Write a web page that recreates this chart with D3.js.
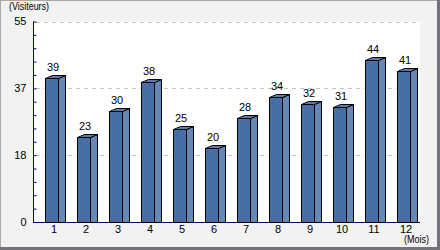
<!DOCTYPE html>
<html><head><meta charset="utf-8">
<script src="https://cdn.jsdelivr.net/npm/d3@7"></script>
<style>
html,body{margin:0;padding:0;background:#f2f2f2;}
svg{display:block;}
text{font-family:"Liberation Sans",Arial,sans-serif;font-size:11px;fill:#000;}
</style></head>
<body>
<svg id="chart" width="440" height="250"></svg>
<script>
const months = ["1","2","3","4","5","6","7","8","9","10","11","12"];
const visitors = [39,23,30,38,25,20,28,34,32,31,44,41];
const yMax = 55;
const yTickLabels = ["0","18","37","55"];
const yTitle = "(Visiteurs)";
const xTitle = "(Mois)";

(function(){
const svg = d3.select("#chart");
const W = 440, H = 250;
svg.append("rect").attr("x",0).attr("y",0).attr("width",W).attr("height",H).attr("fill","#f2f2f2");
svg.append("rect").attr("x",0.5).attr("y",0.5).attr("width",W-1).attr("height",H-1).attr("fill","none").attr("stroke","#a8a8ac");
svg.append("rect").attr("x",W-3).attr("y",0).attr("width",3).attr("height",H).attr("fill","#72737c");
svg.append("rect").attr("x",0).attr("y",H-3).attr("width",W).attr("height",3).attr("fill","#72737c");

const pL = 33, pR = 420, pT = 21.5, pB = 222;
svg.append("rect").attr("x",pL).attr("y",pT).attr("width",pR-pL).attr("height",pB-pT).attr("fill","#fff");

const y = d3.scaleLinear().domain([0,yMax]).range([pB, pT]);
const x = d3.scaleBand().domain(months).range([38, 422]).padding(0);

const majors = d3.range(1,4).map(k => yMax*k/3);
svg.append("g").selectAll("line").data(majors).join("line")
  .attr("x1", pL+3).attr("x2", pR)
  .attr("y1", d => Math.round(y(d))+0.5).attr("y2", d => Math.round(y(d))+0.5)
  .attr("stroke","#c4c4c4").attr("stroke-dasharray","4,4");

const yAxis = d3.axisRight(y).tickValues(d3.range(0,16).map(k=>yMax*k/15)).tickSize(3).tickFormat("");
const gy = svg.append("g").attr("transform",`translate(${pL+0.5},0)`).call(yAxis);
gy.select(".domain").remove();
gy.selectAll("line").attr("stroke","#000080");
svg.append("line").attr("x1",pL+0.5).attr("x2",pL+0.5).attr("y1",pT).attr("y2",pB).attr("stroke","#000080");
svg.append("line").attr("x1",pL).attr("x2",pR).attr("y1",pB+0.5).attr("y2",pB+0.5).attr("stroke","#000080");

svg.append("g").selectAll("text").data(yTickLabels).join("text")
  .attr("x", 26.5).attr("y", (d,i) => y(yMax*i/3)).attr("dy","0.36em")
  .attr("text-anchor","end").text(d => d);

svg.append("g").selectAll("text").data(months).join("text")
  .attr("x", d => x(d)+x.bandwidth()/2).attr("y", 232.5)
  .attr("text-anchor","middle").text(d => d);

svg.append("text").attr("x",9).attr("y",10).attr("textLength",40).attr("lengthAdjust","spacingAndGlyphs").text(yTitle);
svg.append("text").attr("x",404).attr("y",243).attr("textLength",25).attr("lengthAdjust","spacingAndGlyphs").text(xTitle);

const dx = 7, dy = 3;
const bars = svg.append("g");
months.forEach((m,i) => {
  const c = x(m) + x.bandwidth()/2;
  const x0 = Math.round(c - 9.5) + 0.5;
  const fw = 13;
  const yt = Math.round(y(visitors[i]) - 1.5) + 0.5;
  const yb = pB + 0.5;
  const g = bars.append("g").attr("stroke","#000").attr("stroke-width",1);
  g.append("path").attr("d", `M${x0+fw},${yb}L${x0+fw},${yt}L${x0+fw+dx},${yt-dy}L${x0+fw+dx},${yb}Z`).attr("fill","#6787b4");
  g.append("path").attr("d", `M${x0},${yt}L${x0+dx},${yt-dy}L${x0+fw+dx},${yt-dy}L${x0+fw},${yt}Z`).attr("fill","#5a7db0");
  g.append("rect").attr("x",x0).attr("y",yt).attr("width",fw).attr("height",yb-yt).attr("fill","#4670a5");
  bars.append("text").attr("x", c-1).attr("y", yt-7.5).attr("text-anchor","middle").text(visitors[i]);
});
})();
</script>
</body></html>
